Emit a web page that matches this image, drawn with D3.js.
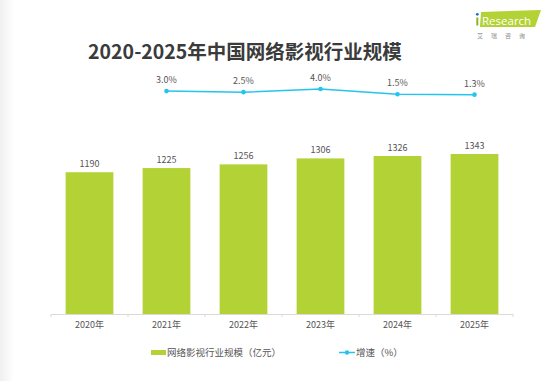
<!DOCTYPE html>
<html><head><meta charset="utf-8">
<script src="https://cdn.jsdelivr.net/npm/d3@7/dist/d3.min.js"></script>
<style>html,body{margin:0;padding:0;background:#fff;}svg{display:block;}</style>
</head><body>
<svg id="c" width="555" height="381"></svg>
<script>
const years = ["2020年","2021年","2022年","2023年","2024年","2025年"];
const scaleValues = [1190,1225,1256,1306,1326,1343];
const growthYears = ["2021年","2022年","2023年","2024年","2025年"];
const growthValues = [3.0,2.5,4.0,1.5,1.3];
const title = "2020-2025年中国网络影视行业规模";
const legendBar = "网络影视行业规模（亿元）";
const legendLine = "增速（%）";

const svg = d3.select("#c");
const font = "'Noto Sans CJK SC','Noto Sans',sans-serif";

// left soft shadow
const defs = svg.append("defs");
const g0 = defs.append("linearGradient").attr("id","sh").attr("x1","0").attr("x2","1");
g0.append("stop").attr("offset","0").attr("stop-color","#f0f0f0");
g0.append("stop").attr("offset","1").attr("stop-color","#ffffff");
svg.append("rect").attr("x",0).attr("y",0).attr("width",14).attr("height",381).attr("fill","url(#sh)");

// title
svg.append("text").attr("x",245).attr("y",59).attr("text-anchor","middle")
  .attr("font-family",font).attr("font-weight","bold").attr("font-size",19.5)
  .attr("fill","#3b3b3b").text(title);

// logo
const logo = svg.append("g");
logo.append("path").attr("d","M481,12 L541,10 L535,27 L480,27 Z").attr("fill","#b2d235");
logo.append("rect").attr("x",476.3).attr("y",17.5).attr("width",2).attr("height",8).attr("fill","#8bb526");
logo.append("circle").attr("cx",477.3).attr("cy",14.3).attr("r",1.4).attr("fill","#1a6fd0");
logo.append("text").attr("x",482).attr("y",25).attr("font-family","'Open Sans',sans-serif")
  .attr("font-size",11.5).attr("fill","#ffffff").text("Research");
logo.append("text").attr("x",505).attr("y",38).attr("text-anchor","middle").attr("font-family",font)
  .attr("font-size",6).attr("fill","#8a8a8a").attr("letter-spacing","8").text("艾瑞咨询");

// scales
const x = d3.scaleBand().domain(years).range([51,513]).paddingInner(0.38).paddingOuter(0.19);
const y = d3.scaleLinear().domain([0,1343]).range([314,154]);
const y2 = d3.scaleLinear().domain([0,4]).range([97.4,89]);

// bars
svg.selectAll("rect.bar").data(years).join("rect").attr("class","bar")
  .attr("x",d=>x(d)).attr("width",x.bandwidth())
  .attr("y",(d,i)=>y(scaleValues[i])).attr("height",(d,i)=>y(0)-y(scaleValues[i]))
  .attr("fill","#b2d235");
svg.selectAll("text.bl").data(years).join("text").attr("class","bl")
  .attr("x",d=>x(d)+x.bandwidth()/2).attr("y",(d,i)=>y(scaleValues[i])-5)
  .attr("text-anchor","middle").attr("font-family",font).attr("font-size",9)
  .attr("fill","#555").text((d,i)=>scaleValues[i]);

// axis
const axis = d3.axisBottom(x).tickSize(0).tickPadding(8);
const ag = svg.append("g").attr("transform","translate(0,314)").call(axis);
ag.select(".domain").attr("stroke","#d9d9d9").attr("d","M51,0.5H513");
ag.selectAll("text").attr("font-family",font).attr("font-size",9).attr("fill","#555");
const bounds = years.map(d=>x(d)-x.step()*x.paddingInner()/2).concat([513]);
bounds[0]=51;
ag.selectAll("line.tb").data(bounds).join("line").attr("class","tb")
  .attr("x1",d=>d).attr("x2",d=>d).attr("y1",0).attr("y2",3).attr("stroke","#d9d9d9");

// line
const cx = d=>x(d)+x.bandwidth()/2;
const line = d3.line().x((d,i)=>cx(growthYears[i])).y(d=>y2(d));
svg.append("path").datum(growthValues).attr("d",line).attr("fill","none")
  .attr("stroke","#25c4ef").attr("stroke-width",1.5);
svg.selectAll("circle.pt").data(growthValues).join("circle").attr("class","pt")
  .attr("cx",(d,i)=>cx(growthYears[i])).attr("cy",d=>y2(d)).attr("r",2.3).attr("fill","#25c4ef");
svg.selectAll("text.pl").data(growthValues).join("text").attr("class","pl")
  .attr("x",(d,i)=>cx(growthYears[i])).attr("y",d=>y2(d)-8)
  .attr("text-anchor","middle").attr("font-family",font).attr("font-size",9)
  .attr("fill","#555").text(d=>d.toFixed(1)+"%");

// legend
svg.append("rect").attr("x",151).attr("y",350).attr("width",15).attr("height",5).attr("fill","#b2d235");
svg.append("text").attr("x",167).attr("y",355.5).attr("font-family",font).attr("font-size",9.5)
  .attr("fill","#555").text(legendBar);
svg.append("line").attr("x1",339).attr("x2",355).attr("y1",352.5).attr("y2",352.5)
  .attr("stroke","#25c4ef").attr("stroke-width",1.5);
svg.append("circle").attr("cx",347).attr("cy",352.5).attr("r",2.2).attr("fill","#25c4ef");
svg.append("text").attr("x",356).attr("y",355.5).attr("font-family",font).attr("font-size",9.5)
  .attr("fill","#555").text(legendLine);
</script>
</body></html>
